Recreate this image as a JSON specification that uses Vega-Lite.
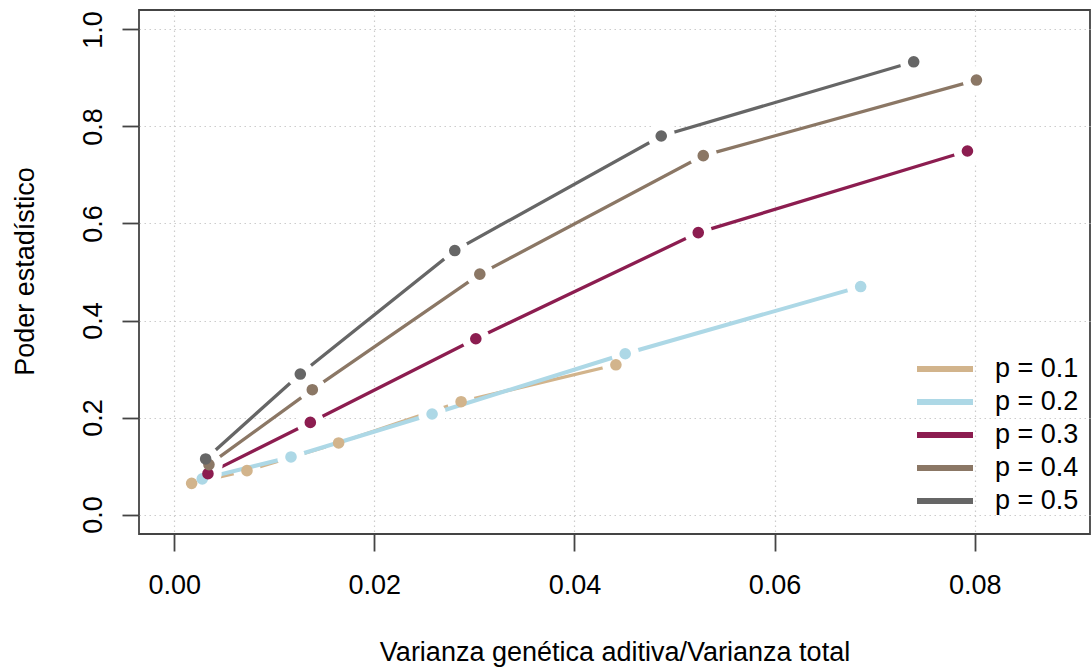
{
  "$schema": "https://vega.github.io/schema/vega-lite/v6.json",
  "width": 951,
  "height": 524,
  "autosize": {"type": "none"},
  "padding": {"left": 139, "top": 10, "right": 2, "bottom": 134},
  "background": "white",
  "config": {
    "font": "Liberation Sans",
    "view": {"stroke": "#444444", "strokeWidth": 1.8},
    "axis": {
      "domain": false,
      "grid": true,
      "gridColor": "#cccccc",
      "gridDash": [1.5, 3.5],
      "gridWidth": 1.2,
      "tickSize": 17,
      "tickColor": "#444444",
      "tickWidth": 1.8,
      "labelFontSize": 27,
      "labelColor": "#000000",
      "labelFlush": false,
      "labelOverlap": false,
      "titleFontSize": 27,
      "titleFontWeight": "normal",
      "titleColor": "#000000"
    }
  },
  "data": {
    "values": [
      {"p": "0.1", "x": 0.00174, "y": 0.0644},
      {"p": "0.1", "x": 0.00727, "y": 0.0906},
      {"p": "0.1", "x": 0.01643, "y": 0.1476},
      {"p": "0.1", "x": 0.02867, "y": 0.2327},
      {"p": "0.1", "x": 0.04414, "y": 0.3088},
      {"p": "0.2", "x": 0.0028, "y": 0.0735},
      {"p": "0.2", "x": 0.01167, "y": 0.1188},
      {"p": "0.2", "x": 0.02577, "y": 0.2073},
      {"p": "0.2", "x": 0.04507, "y": 0.3315},
      {"p": "0.2", "x": 0.0686, "y": 0.47},
      {"p": "0.3", "x": 0.00337, "y": 0.0844},
      {"p": "0.3", "x": 0.0136, "y": 0.19},
      {"p": "0.3", "x": 0.03014, "y": 0.3624},
      {"p": "0.3", "x": 0.05237, "y": 0.5812},
      {"p": "0.3", "x": 0.07927, "y": 0.7494},
      {"p": "0.4", "x": 0.00347, "y": 0.103},
      {"p": "0.4", "x": 0.0138, "y": 0.2574},
      {"p": "0.4", "x": 0.03054, "y": 0.4956},
      {"p": "0.4", "x": 0.05287, "y": 0.7398},
      {"p": "0.4", "x": 0.08017, "y": 0.8956},
      {"p": "0.5", "x": 0.00314, "y": 0.1147},
      {"p": "0.5", "x": 0.0126, "y": 0.2897},
      {"p": "0.5", "x": 0.02804, "y": 0.5442},
      {"p": "0.5", "x": 0.04867, "y": 0.7803},
      {"p": "0.5", "x": 0.0739, "y": 0.9333}
    ]
  },
  "encoding": {
    "x": {
      "field": "x",
      "type": "quantitative",
      "scale": {"domain": [-0.00352, 0.09152], "nice": false, "zero": false},
      "axis": {
        "values": [0, 0.02, 0.04, 0.06, 0.08],
        "format": ".2f",
        "labelPadding": 21,
        "title": "Varianza genética aditiva/Varianza total",
        "titleY": 126,
        "titleBaseline": "alphabetic"
      }
    },
    "y": {
      "field": "y",
      "type": "quantitative",
      "scale": {"domain": [-0.04, 1.04], "nice": false, "zero": false},
      "axis": {
        "values": [0, 0.2, 0.4, 0.6, 0.8, 1],
        "format": ".1f",
        "labelAngle": 270,
        "labelAlign": "center",
        "labelBaseline": "alphabetic",
        "labelPadding": 21,
        "title": "Poder estadístico",
        "titleAngle": 270,
        "titleAlign": "center",
        "titleBaseline": "alphabetic",
        "titleX": -105.5,
        "titleY": 261
      }
    }
  },
  "layer": [
    {
      "transform": [{"filter": "datum.p == '0.1'"}],
      "mark": {"type": "line", "strokeWidth": 3.3},
      "encoding": {
        "color": {
          "field": "p",
          "type": "nominal",
          "scale": {"domain": ["0.1", "0.2", "0.3", "0.4", "0.5"], "range": ["#D2B48C", "#ADD8E6", "#8C1D50", "#8B7765", "#666666"]},
          "legend": {"title": null, "orient": "none", "legendX": 789, "legendY": 342, "symbolType": "M-2,0H2", "symbolSize": 784, "symbolStrokeWidth": 6, "symbolFillColor": "transparent", "labelFontSize": 27, "labelColor": "#000000", "labelOffset": 33, "rowPadding": 3, "padding": 0, "labelLimit": 0, "labelExpr": "'p = ' + datum.label"}
        }
      }
    },
    {
      "transform": [{"filter": "datum.p == '0.1'"}],
      "mark": {"type": "circle", "size": 755, "color": "white", "opacity": 1},
      "encoding": {}
    },
    {
      "transform": [{"filter": "datum.p == '0.2'"}],
      "mark": {"type": "line", "strokeWidth": 4},
      "encoding": {"color": {"field": "p", "type": "nominal"}}
    },
    {
      "transform": [{"filter": "datum.p == '0.2'"}],
      "mark": {"type": "circle", "size": 755, "color": "white", "opacity": 1},
      "encoding": {}
    },
    {
      "transform": [{"filter": "datum.p == '0.3'"}],
      "mark": {"type": "line", "strokeWidth": 3.3},
      "encoding": {"color": {"field": "p", "type": "nominal"}}
    },
    {
      "transform": [{"filter": "datum.p == '0.3'"}],
      "mark": {"type": "circle", "size": 755, "color": "white", "opacity": 1},
      "encoding": {}
    },
    {
      "transform": [{"filter": "datum.p == '0.4'"}],
      "mark": {"type": "line", "strokeWidth": 3.3},
      "encoding": {"color": {"field": "p", "type": "nominal"}}
    },
    {
      "transform": [{"filter": "datum.p == '0.4'"}],
      "mark": {"type": "circle", "size": 755, "color": "white", "opacity": 1},
      "encoding": {}
    },
    {
      "transform": [{"filter": "datum.p == '0.5'"}],
      "mark": {"type": "line", "strokeWidth": 3.3},
      "encoding": {"color": {"field": "p", "type": "nominal"}}
    },
    {
      "transform": [{"filter": "datum.p == '0.5'"}],
      "mark": {"type": "circle", "size": 755, "color": "white", "opacity": 1},
      "encoding": {}
    },
    {
      "mark": {"type": "circle", "size": 135, "opacity": 1},
      "encoding": {"color": {"field": "p", "type": "nominal", "legend": null}}
    }
  ]
}
